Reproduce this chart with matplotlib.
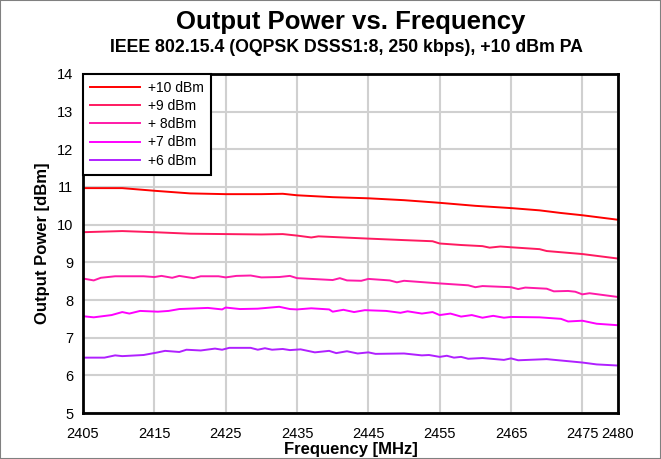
import matplotlib
matplotlib.use('Agg')
import matplotlib.pyplot as plt
from matplotlib.patches import Rectangle

plt.rcParams['font.family'] = ['Liberation Sans', 'DejaVu Sans']

# Measured output power (dBm) vs. channel frequency (MHz), per PA setting
f_10 = [2405, 2410.5, 2415, 2420, 2425, 2430, 2433, 2435, 2440, 2445, 2450,
        2455, 2460, 2465, 2469, 2472, 2475, 2480]
p_10 = [10.97, 10.97, 10.90, 10.83, 10.81, 10.81, 10.82, 10.78, 10.73, 10.70, 10.65,
        10.58, 10.50, 10.44, 10.38, 10.31, 10.25, 10.13]

f_9 = [2405, 2410.5, 2415, 2420, 2425, 2430, 2433, 2435, 2437, 2438, 2445, 2450,
       2454, 2455, 2458, 2461, 2462, 2463.5, 2465, 2469, 2470, 2475, 2480]
p_9 = [9.80, 9.83, 9.80, 9.76, 9.75, 9.74, 9.75, 9.71, 9.66, 9.69, 9.63, 9.59,
       9.56, 9.50, 9.46, 9.43, 9.39, 9.42, 9.40, 9.35, 9.30, 9.22, 9.10]

f_8 = [2405, 2406.5, 2407.5, 2409.5, 2413.5, 2415, 2416, 2417.5, 2418.5, 2420.5,
       2421.5, 2424, 2425, 2426.5, 2428.5, 2430, 2432.5, 2434, 2435, 2440, 2441,
       2442, 2444, 2445, 2448, 2449, 2450, 2455, 2459, 2460, 2461, 2465, 2466,
       2467, 2470, 2471, 2473, 2474, 2475, 2476, 2480]
p_8 = [8.57, 8.52, 8.59, 8.63, 8.63, 8.61, 8.64, 8.59, 8.64, 8.58,
       8.63, 8.63, 8.60, 8.64, 8.65, 8.60, 8.61, 8.64, 8.58, 8.53, 8.58,
       8.52, 8.51, 8.56, 8.52, 8.47, 8.51, 8.44, 8.39, 8.34, 8.37, 8.34, 8.29,
       8.33, 8.30, 8.23, 8.24, 8.22, 8.15, 8.18, 8.08]

f_7 = [2405, 2406.5, 2409, 2410.5, 2411.5, 2413, 2415.5, 2417, 2418.5, 2422.5,
       2424.5, 2425, 2427, 2429.5, 2432.5, 2434, 2435, 2437, 2439.5, 2440, 2441.5,
       2443, 2444.5, 2447.5, 2449.5, 2450.5, 2452.5, 2454, 2455, 2456.5, 2458,
       2459.5, 2461, 2462.5, 2464, 2465, 2469, 2472, 2473, 2475, 2477, 2480]
p_7 = [7.57, 7.54, 7.60, 7.68, 7.64, 7.71, 7.69, 7.71, 7.76, 7.79,
       7.75, 7.80, 7.76, 7.77, 7.82, 7.76, 7.75, 7.78, 7.75, 7.69, 7.74,
       7.68, 7.73, 7.71, 7.66, 7.70, 7.64, 7.68, 7.60, 7.64, 7.56,
       7.60, 7.53, 7.58, 7.53, 7.55, 7.54, 7.50, 7.43, 7.45, 7.37, 7.33]

f_6 = [2405, 2408, 2409.5, 2410.5, 2413.5, 2415.5, 2416.5, 2418.5, 2419.5, 2421.5,
       2423.5, 2424.5, 2425.5, 2428.5, 2429.5, 2430.5, 2431.5, 2433, 2434, 2435.5,
       2437.5, 2439.5, 2440.5, 2442, 2443.5, 2445, 2446, 2450, 2452.5, 2453.5,
       2455, 2456, 2457, 2458, 2459, 2461, 2464, 2465, 2466, 2470, 2475, 2477, 2480]
p_6 = [6.47, 6.47, 6.53, 6.51, 6.54, 6.61, 6.65, 6.62, 6.68, 6.66,
       6.71, 6.68, 6.73, 6.73, 6.68, 6.72, 6.68, 6.70, 6.67, 6.69,
       6.61, 6.65, 6.59, 6.64, 6.58, 6.61, 6.57, 6.58, 6.53, 6.54,
       6.49, 6.52, 6.47, 6.49, 6.44, 6.46, 6.41, 6.45, 6.40, 6.43, 6.34, 6.29, 6.26]

labels = ['+10 dBm', '+9 dBm', '+ 8dBm', '+7 dBm', '+6 dBm']
colors = ['#ff0000', '#ff1a60', '#ff1aa8', '#ff00ff', '#b020ff']
xticks = [2405, 2415, 2425, 2435, 2445, 2455, 2465, 2475, 2480]
yticks = [5, 6, 7, 8, 9, 10, 11, 12, 13, 14]

fig = plt.figure(figsize=(6.61, 4.59), dpi=100)
ax = fig.add_axes([0.1256, 0.1002, 0.8094, 0.7386])

series = [(f_10, p_10), (f_9, p_9), (f_8, p_8), (f_7, p_7), (f_6, p_6)]
for (f, p), lab, c in zip(series, labels, colors):
    ax.plot(f, p, color=c, lw=1.4, label=lab)

ax.set_xlim(2405, 2480)
ax.set_ylim(5, 14)
ax.set_xticks(xticks)
ax.set_yticks(yticks)
ax.tick_params(length=0, labelsize=10.5)
ax.tick_params(axis='x', pad=10)
ax.tick_params(axis='y', pad=7)
ax.grid(True, color='#d0d0d0', lw=1.5)
ax.set_axisbelow(True)
for s in ax.spines.values():
    s.set_linewidth(2)

ax.set_xlabel('Frequency [MHz]', fontsize=12, fontweight='bold', labelpad=1)
ax.set_ylabel('Output Power [dBm]', fontsize=12, fontweight='bold', labelpad=5)

fig.text(0.53, 0.951, 'Output Power vs. Frequency', ha='center', va='center',
         fontsize=18.5, fontweight='bold')
fig.text(0.524, 0.896, 'IEEE 802.15.4 (OQPSK DSSS1:8, 250 kbps), +10 dBm PA',
         ha='center', va='center', fontsize=12.8, fontweight='bold')

leg = ax.legend(loc='upper left', bbox_to_anchor=(0, 1), borderaxespad=0,
                fancybox=False, framealpha=1, edgecolor='black', fontsize=10,
                handlelength=3.6, labelspacing=0.3, handletextpad=0.6,
                borderpad=0.5)
leg.get_frame().set_linewidth(1.5)

fig.patches.append(Rectangle((0, 0), 1, 1, transform=fig.transFigure,
                             fill=False, edgecolor='#808080', lw=1.5))

fig.savefig('out.png', dpi=100)
